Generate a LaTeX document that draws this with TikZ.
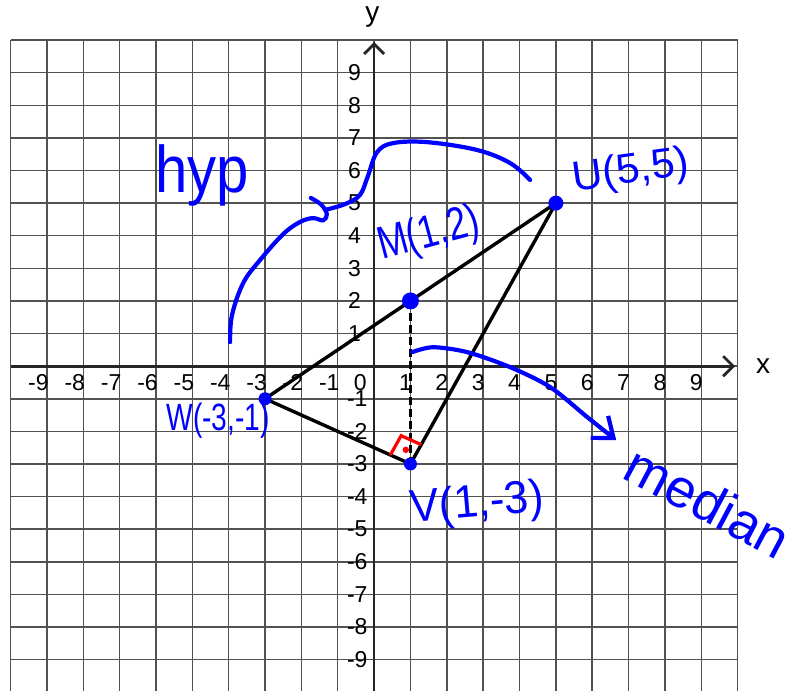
\documentclass[tikz,border=0pt]{standalone}
\usepackage{fontspec}
\setmainfont{Liberation Sans}
\usetikzlibrary{arrows.meta, calc}

\tikzset{
  gridline/.style={black!68, line width=0.75pt},
  axisline/.style={black!85, line width=1.4pt, -{Straight Barb[length=5pt,width=10pt]}},
  ticklbl/.style={inner sep=0pt, font=\fontsize{11.5}{12}\selectfont},
  axislbl/.style={inner sep=0pt, font=\fontsize{14}{14}\selectfont},
  side/.style={black, line width=1.7pt},
  medianline/.style={black, line width=1.6pt, dash pattern=on 4pt off 2pt},
  rightmark/.style={red, line width=1.6pt},
  ptdot/.style={circle, fill=blue, inner sep=0pt, minimum size=#1},
  hand/.style={blue, line width=2.1pt, line cap=round, line join=round},
  handlbl/.style={blue, inner sep=0pt, transform shape},
}

\begin{document}
\begin{tikzpicture}[x=18.175pt, y=16.3pt]
    \clip (-10.29,-9.94) rectangle (11.77,11.23);
    \fill[white] (-10.29,-9.94) rectangle (11.77,11.23);

    % Grade
    \foreach \x in {-10,...,10}
        \draw[gridline] (\x,-10) -- (\x,10);
    \foreach \y in {-10,...,10}
        \draw[gridline] (-10,\y) -- (10,\y);

    % Eixos
    \draw[axisline] (-10,0) -- (9.93,0);
    \draw[axisline] (0,-10) -- (0,9.94);
    \node[axislbl] (xlbl) at (10.7,0) {x};
    \node[axislbl] (ylbl) at (-0.05,10.71) {y};

    % Marcas
    \foreach \x in {-9,...,-1}
        \node[ticklbl, anchor=base east] (xt\x) at (\x+0.06,-0.74) {\x};
    \foreach \x in {1,...,9}
        \node[ticklbl, anchor=base east] (xt\x) at (\x+0.05,-0.74) {\x};
    \node[ticklbl, anchor=base east] (xt0) at (-0.19,-0.74) {0};
    \foreach \y in {1,...,9}
        \node[ticklbl, anchor=east] (yt\y) at (-0.35,\y) {\y};
    \foreach \y in {-9,...,-1}
        \node[ticklbl, anchor=east] (yt\y) at (-0.17,\y) {\y};

    % Triangulo UVW e mediana
    \coordinate (W) at (-3,-1);
    \coordinate (U) at (5,5);
    \coordinate (V) at (1,-3);
    \coordinate (M) at (1,2);
    \draw[side] (W) -- (U) -- (V) -- cycle;
    \draw[medianline] (M) -- (V);

    % Angulo reto em V
    \coordinate (mW) at ($(V)!0.138!(W)$);
    \coordinate (mU) at ($(V)!0.074!(U)$);
    \coordinate (mC) at ($(mW)+(mU)-(V)$);
    \draw[rightmark] (mW) -- (mC) -- (mU);
    \fill[red] ($(V)!0.5!(mC)$) circle (1.6pt);

    % Pontos
    \node[ptdot=8.5pt] (Mdot) at (M) {};
    \node[ptdot=7.5pt] (Udot) at (U) {};
    \node[ptdot=6.5pt] (Wdot) at (W) {};
    \node[ptdot=6.5pt] (Vdot) at (V) {};

    % Chave da hipotenusa
    \draw[hand] plot[smooth, tension=0.6] coordinates {(-3.96,0.74) (-3.91,1.56) (-3.60,2.55) (-3.14,3.25) (-2.50,4.05) (-2.04,4.42) (-1.68,4.54) (-1.40,4.47) (-1.30,4.66) (-1.45,4.95) (-1.74,5.16)};
    \draw[hand] plot[smooth, tension=0.6] coordinates {(-1.32,4.80) (-0.80,4.97) (-0.39,5.25) (-0.17,5.83) (0.08,6.56) (0.52,6.84) (1.46,6.87) (2.83,6.63) (3.74,6.23) (4.29,5.71)};

    % Seta da mediana
    \draw[hand, -{Straight Barb[length=9pt,width=14pt]}] plot[smooth] coordinates {(1.05,0.43) (1.62,0.58) (2.56,0.43) (3.74,-0.03) (4.84,-0.64) (5.86,-1.56) (6.66,-2.27)};

    % Rotulos
    \node[handlbl, font=\fontsize{33}{33}\selectfont, anchor=base west, xscale=0.88] (hyplbl) at (-6.02,5.34) {hyp};
    \node[handlbl, font=\fontsize{23}{23}\selectfont, rotate=15, xscale=0.78] (Mlbl) at (1.51,4.02) {M(1,2)};
    \node[handlbl, font=\fontsize{21}{21}\selectfont, rotate=8] (Ulbl) at (7.07,5.95) {U(5,5)};
    \node[handlbl, font=\fontsize{19}{19}\selectfont, xscale=0.74] (Wlbl) at (-4.29,-1.66) {W(-3,-1)};
    \node[handlbl, font=\fontsize{23}{23}\selectfont, rotate=5, xscale=0.95] (Vlbl) at (2.83,-4.26) {V(1,-3)};
    \node[handlbl, font=\fontsize{27}{27}\selectfont, rotate=-28] (medlbl) at (9.19,-4.17) {median};
\end{tikzpicture}
\end{document}
